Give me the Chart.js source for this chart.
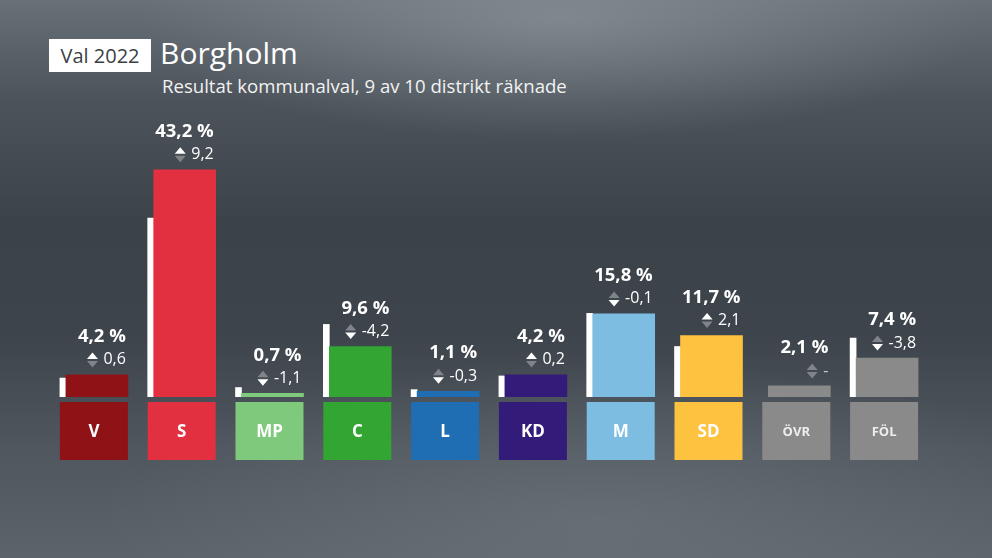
<!DOCTYPE html>
<html>
<head>
<meta charset="utf-8">
<script src="https://cdn.jsdelivr.net/npm/chart.js@4.4.0/dist/chart.umd.min.js"></script>
<style>
    html, body { margin: 0; padding: 0; }
    body {
        width: 992px; height: 558px; overflow: hidden; position: relative;
        font-family: "Open Sans", Roboto, sans-serif;
        background:
            radial-gradient(ellipse 420px 120px at 560px 20px, rgba(150,158,166,0.55), rgba(150,158,166,0) 100%),
            radial-gradient(ellipse 500px 160px at 600px 520px, rgba(120,128,136,0.45), rgba(120,128,136,0) 100%),
            linear-gradient(180deg, #687078 0%, #4c535a 18%, #3b4248 40%, #3d444b 60%, #4f565d 80%, #5c636a 100%);
    }
    #tag {
        position: absolute; left: 49px; top: 39px; width: 102px; height: 33px;
        background: #fff; color: #3a3f45; font-size: 20px; line-height: 33px; text-align: center;
    }
    #title { position: absolute; left: 160px; top: 33px; color: #fff; font-size: 30px; line-height: 40px; }
    #subtitle { position: absolute; left: 162px; top: 73px; color: #f2f2f2; font-size: 18.6px; line-height: 25px; }
    #wrap { position: absolute; left: 0; top: 0; width: 992px; height: 558px; }
</style>
</head>
<body>
<div id="tag">Val 2022</div>
<div id="title">Borgholm</div>
<div id="subtitle">Resultat kommunalval, 9 av 10 distrikt räknade</div>
<div id="wrap"><canvas id="chart"></canvas></div>
<script>
// Data
const parties = ['V', 'S', 'MP', 'C', 'L', 'KD', 'M', 'SD', 'ÖVR', 'FÖL'];
const results = [4.2, 43.2, 0.7, 9.6, 1.1, 4.2, 15.8, 11.7, 2.1, 7.4];
const changes = [0.6, 9.2, -1.1, -4.2, -0.3, 0.2, -0.1, 2.1, null, -3.8];
const partyColors = ['#8f1216', '#e23040', '#7fc97c', '#32a532', '#1f6db3', '#331b79', '#7dbde2', '#fdc240', '#8a8a8a', '#8a8a8a'];

// Layout
const padLeft = 50, padRight = 64, padTop = 134, padBottom = 161;
const slotW = 68, prevW = 6, curW = slotW - prevW;
const pitch = (992 - padLeft - padRight) / parties.length;
const prevShift = -(slotW / 2 - prevW / 2) / pitch;
const curShift = (prevW / 2) / pitch;
const FONT = '"Open Sans", Roboto, sans-serif';

const previous = results.map((v, i) => changes[i] === null ? null : +(v - changes[i]).toFixed(1));

function fmt(n) {
    return n.toFixed(1).replace('.', ',');
}

// Labels above the bars: result and change with arrow
const valueLabels = {
    id: 'valueLabels',
    afterDatasetsDraw(chart) {
        const ctx = chart.ctx;
        const meta = chart.getDatasetMeta(1);
        meta.data.forEach((bar, i) => {
            const right = bar.x + curW / 2 - 2;
            ctx.save();
            ctx.fillStyle = '#ffffff';
            ctx.textAlign = 'right';
            ctx.textBaseline = 'middle';
            ctx.font = 'bold 18.5px ' + FONT;
            ctx.fillText(fmt(results[i]) + ' %', right, bar.y - 38);

            const ch = changes[i];
            const txt = ch === null ? '-' : fmt(ch);
            ctx.font = '16px ' + FONT;
            ctx.fillStyle = ch === null ? '#c8cbce' : '#ffffff';
            const ty = bar.y - 15;
            ctx.fillText(txt, right, ty);
            const w = ctx.measureText(txt).width;
            const ax = right - w - 11;
            const upOn = ch !== null && ch > 0;
            const downOn = ch !== null && ch < 0;
            ctx.fillStyle = upOn ? '#ffffff' : '#7e8489';
            ctx.beginPath();
            ctx.moveTo(ax - 5.5, ty - 1);
            ctx.lineTo(ax + 5.5, ty - 1);
            ctx.lineTo(ax, ty - 7.5);
            ctx.closePath();
            ctx.fill();
            ctx.fillStyle = downOn ? '#ffffff' : '#7e8489';
            ctx.beginPath();
            ctx.moveTo(ax - 5.5, ty + 1);
            ctx.lineTo(ax + 5.5, ty + 1);
            ctx.lineTo(ax, ty + 7.5);
            ctx.closePath();
            ctx.fill();
            ctx.restore();
        });
    }
};

// Party boxes under the baseline
const partyBoxes = {
    id: 'partyBoxes',
    afterDraw(chart) {
        const ctx = chart.ctx;
        const xs = chart.scales.x;
        const base = chart.scales.y.getPixelForValue(0);
        parties.forEach((p, i) => {
            const cx = xs.getPixelForValue(i);
            ctx.save();
            ctx.fillStyle = partyColors[i];
            ctx.fillRect(cx - slotW / 2, base + 5, slotW, 58);
            const small = p.length > 2;
            ctx.fillStyle = small ? '#eeeeee' : '#ffffff';
            ctx.font = (small ? 'bold 13px ' : 'bold 17px ') + FONT;
            ctx.textAlign = 'center';
            ctx.textBaseline = 'middle';
            ctx.fillText(p, cx, base + 35);
            ctx.restore();
        });
    }
};

new Chart(document.getElementById('chart'), {
    type: 'bar',
    data: {
        datasets: [
            {
                label: 'Förra valet',
                data: previous.map((v, i) => ({ x: i + prevShift, y: v })),
                backgroundColor: '#ffffff',
                barThickness: prevW,
                grouped: false,
                order: 2
            },
            {
                label: 'Resultat',
                data: results.map((v, i) => ({ x: i + curShift, y: v })),
                backgroundColor: partyColors,
                barThickness: curW,
                grouped: false,
                order: 1
            }
        ]
    },
    options: {
        responsive: true,
        maintainAspectRatio: false,
        animation: false,
        layout: { padding: { left: padLeft, right: padRight, top: padTop, bottom: padBottom } },
        plugins: {
            legend: { display: false },
            tooltip: { enabled: false }
        },
        scales: {
            x: { type: 'linear', min: -0.5, max: parties.length - 0.5, display: false, offset: false },
            y: { min: 0, max: 50, display: false }
        }
    },
    plugins: [valueLabels, partyBoxes]
});
</script>
</body>
</html>
